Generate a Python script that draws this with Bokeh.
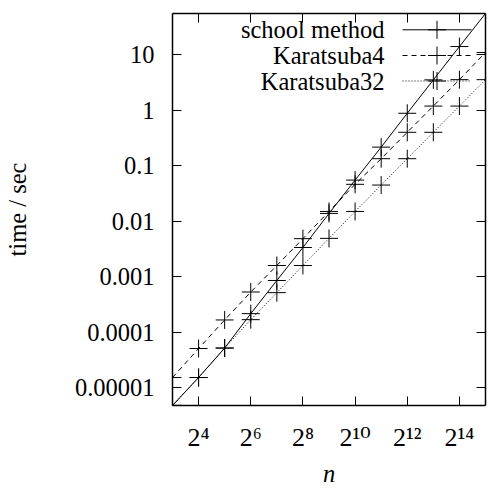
from bokeh.plotting import figure
from bokeh.models import (Range1d, FixedTicker, LogAxis, Label, Arrow,
                          CustomLabelingPolicy)
from bokeh.embed import file_html
from bokeh.resources import INLINE

# ---- data ----
n = [8, 16, 32, 64, 128, 256, 512, 1024, 2048, 4096, 8192, 16384, 32768]
school = [4.8e-6, 1.53e-5, 5.2e-5, 2.17e-4, 8.6e-4, 3.38e-3, 0.0139, 0.0555, 0.218, 0.89, 3.56, 14.2, 56.0]
karatsuba4 = [1.53e-5, 5.1e-5, 1.67e-4, 5.33e-4, 1.6e-3, 4.88e-3, 0.0151, 0.0466, 0.135, 0.404, 1.2, 3.59, 11.1]
karatsuba32 = [4.8e-6, 1.53e-5, 5.2e-5, 1.69e-4, 5.19e-4, 1.6e-3, 4.94e-3, 0.0151, 0.0452, 0.135, 0.404, 1.2, 3.59]
series_names = ["school method", "Karatsuba4", "Karatsuba32"]

x_ticks = [16, 64, 256, 1024, 4096, 16384]
x_tick_labels = ["2\u2074", "2\u2076", "2\u2078", "2\u00b9\u2070", "2\u00b9\u00b2", "2\u00b9\u2074"]
y_ticks = [1e-5, 1e-4, 1e-3, 1e-2, 1e-1, 1, 10]
y_tick_labels = ["0.00001", "0.0001", "0.001", "0.01", "0.1", "1", "10"]

FONT = "Liberation Serif"
XFONT = "Liberation Serif, DejaVu Serif"
FS = "24.5px"
XFS = "26px"

p = figure(width=490, height=489, x_axis_type="log", y_axis_type="log",
           x_range=Range1d(8, 32768), y_range=Range1d(4.79e-6, 56),
           output_backend="svg", toolbar_location=None,
           min_border_left=171, min_border_right=1, min_border_top=13, min_border_bottom=79)
p.grid.visible = False
p.outline_line_color = None
p.background_fill_color = "white"
p.border_fill_color = "white"

hide_labels = CustomLabelingPolicy(code="""
const all = [...indices]
for (const i of all) indices.unset(i)
return indices
""")

def style_axis(ax, ticks, labels=None, font=FONT, size=FS):
    ax.ticker = FixedTicker(ticks=ticks, minor_ticks=[])
    ax.major_tick_in = 9
    ax.major_tick_out = 0
    ax.minor_tick_in = 0
    ax.minor_tick_out = 0
    ax.major_tick_line_color = "black"
    ax.major_tick_line_width = 1
    ax.axis_line_color = "black"
    ax.axis_line_width = 1.5
    if labels is not None:
        ax.major_label_text_font = font
        ax.major_label_text_font_size = size
        ax.major_label_text_color = "black"
        ax.major_label_overrides = dict(zip(ticks, labels))
    else:
        ax.major_label_text_font_size = "1px"
        ax.major_label_standoff = 0
        ax.major_label_policy = hide_labels

xa = p.xaxis[0]
style_axis(xa, x_ticks, x_tick_labels, font=XFONT, size=XFS)
xa.major_label_standoff = 17
xa.axis_label = "n"
xa.axis_label_text_font = FONT
xa.axis_label_text_font_size = FS
xa.axis_label_text_font_style = "italic"
xa.axis_label_text_color = "black"
xa.axis_label_standoff = 5

ya = p.yaxis[0]
style_axis(ya, y_ticks, y_tick_labels)
ya.major_label_standoff = 18
ya.axis_label = "time / sec"
ya.axis_label_text_font = FONT
ya.axis_label_text_font_size = FS
ya.axis_label_text_font_style = "normal"
ya.axis_label_text_color = "black"
ya.axis_label_standoff = 41

ra = LogAxis()
style_axis(ra, y_ticks)
p.add_layout(ra, "right")
ta = LogAxis()
style_axis(ta, x_ticks)
p.add_layout(ta, "above")

dashes = ["solid", "5 4", "1 2"]
for name, ys, dash in zip(series_names, [school, karatsuba4, karatsuba32], dashes):
    p.line(n, ys, line_color="black", line_width=1, line_dash=dash)
    p.scatter(n, ys, marker="cross", size=18, line_color="black", line_width=1)

# legend (text on the left, sample on the right), frame-relative screen units
leg_y = [375.7, 350, 324.5]
leg_x0, leg_x1, leg_text_x, arm = 230, 299, 212, 9
leg_xc = (leg_x0 + leg_x1) / 2.0
for name, dash, yy in zip(series_names, dashes, leg_y):
    p.add_layout(Label(x=leg_text_x, y=yy, x_units="screen", y_units="screen", text=name,
                       text_align="right", text_baseline="middle",
                       text_font=FONT, text_font_size=FS, text_color="black"))
    p.add_layout(Arrow(end=None, x_start=leg_x0, y_start=yy, x_end=leg_x1, y_end=yy,
                       start_units="screen", end_units="screen",
                       line_color="black", line_width=1, line_dash=dash))
    p.add_layout(Arrow(end=None, x_start=leg_xc - arm, y_start=yy, x_end=leg_xc + arm, y_end=yy,
                       start_units="screen", end_units="screen",
                       line_color="black", line_width=1))
    p.add_layout(Arrow(end=None, x_start=leg_xc, y_start=yy - arm, x_end=leg_xc, y_end=yy + arm,
                       start_units="screen", end_units="screen",
                       line_color="black", line_width=1))

open("out.html", "w").write(file_html(p, INLINE))
